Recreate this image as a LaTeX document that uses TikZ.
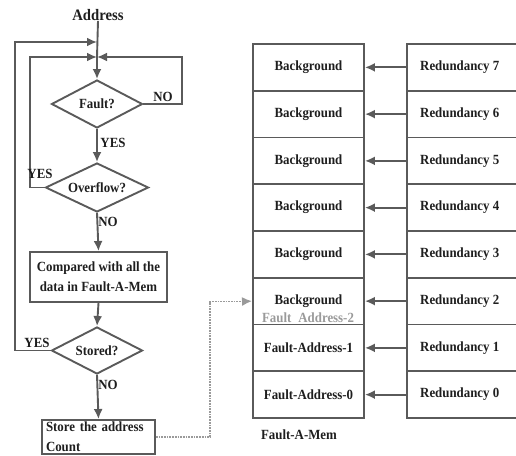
\documentclass[tikz,border=0pt]{standalone}
\usepackage{fontspec}
\setmainfont{Liberation Serif}[FakeStretch=0.92]
\usetikzlibrary{shapes.geometric,arrows.meta}
\definecolor{ln}{HTML}{5A5A5A}
\definecolor{tx}{HTML}{1E1E1E}
\definecolor{dt}{HTML}{9A9A9A}
\tikzset{
  base/.style={font=\fontsize{14}{20}\selectfont\bfseries, text=tx},
  dia/.style={base, diamond, draw=ln, line width=1.9pt, inner sep=0pt, aspect=1.9},
  fbox/.style={base, rectangle, draw=ln, line width=1.9pt, inner sep=2pt},
  cell/.style={base, rectangle, draw=ln, line width=1.9pt, minimum height=46.75pt, inner sep=0pt},
  lbl/.style={base, inner sep=0pt},
  conn/.style={draw=ln, line width=1.9pt},
  arr/.style={conn, -{Latex[length=10pt,width=9pt]}},
}
\begin{document}
\begin{tikzpicture}[x=1pt,y=-1pt]
\useasboundingbox (0,0) rectangle (516,455);
\clip (0,0) rectangle (516,455);
% flowchart
\node[lbl, font=\fontsize{16}{20}\selectfont\bfseries] (addr) at (98,15) {Address};
\coordinate (j1) at (97,42);
\coordinate (j2) at (97,57);
\node[dia, minimum width=91pt, minimum height=48pt] (fault) at (97,104) {Fault?};
\node[dia, minimum width=103pt, minimum height=49pt] (over) at (97,187.5) {Overflow?};
\node[fbox, minimum width=137pt, minimum height=50pt, align=center] (cmp) at (98.5,277) {Compared with all the\\data in Fault-A-Mem};
\node[dia, minimum width=91pt, minimum height=47pt] (stored) at (97,350.5) {Stored?};
\node[fbox, minimum width=113pt, minimum height=34pt, align=left, text width=105pt] (store) at (98.5,437) {Store the address\\Count};
\coordinate (c1) at (15,350.5);
\coordinate (c2) at (15,42);
\coordinate (c3) at (30,187.5);
\coordinate (c4) at (30,57);
\coordinate (c5) at (182,104);
\coordinate (c6) at (182,57);
\coordinate (d1) at (210,437);
\coordinate (d2) at (210,301.5);

\draw[conn] (addr.south) -- (j2);
\draw[arr] (j2) -- (fault.north);
\draw[arr] (stored.west) -- (c1) -- (c2) -- (j1);
\draw[arr] (over.west) -- (c3) -- (c4) -- (j2);
\draw[arr] (fault.east) -- (c5) -- (c6) -- (j2);
\draw[arr] (fault.south) -- (over.north);
\draw[arr] (over.south) -- (cmp.north);
\draw[arr] (cmp.south) -- (stored.north);
\draw[arr] (stored.south) -- (store.north);

\node[lbl] (no1) at (163,97) {NO};
\node[lbl] (yes1) at (113,143) {YES};
\node[lbl] (yes2) at (40,174) {YES};
\node[lbl] (no2) at (108,222) {NO};
\node[lbl] (yes3) at (37,343) {YES};
\node[lbl] (no3) at (108,385) {NO};

% memory
\foreach \i/\bt/\rt in {0/Background/Redundancy 7,1/Background/Redundancy 6,2/Background/Redundancy 5,3/Background/Redundancy 4,4/Background/Redundancy 3,5/Background/Redundancy 2,6/Fault-Address-1/Redundancy 1,7/Fault-Address-0/Redundancy 0}{
  \node[cell, minimum width=111pt] (bg\i) at (308.5,{44+46.75*(\i+0.5)}) {};
  \node[cell, minimum width=113pt] (rd\i) at (463.5,{44+46.75*(\i+0.5)}) {};
  \node[lbl] (bgt\i) at (bg\i) {\bt};
  \node[lbl, anchor=west] (rdt\i) at (420,{44+46.75*(\i+0.5)}) {\rt};
  \draw[arr] (rd\i.west) -- (bg\i.east);
}
\node[lbl, text=dt] (fa2) at (308,318) {Fault\hspace{0.5em}Address-2};
\node[lbl] (famem) at (299,435) {Fault-A-Mem};
\draw[draw=dt, line width=1.7pt, densely dotted] (store.east) -- (d1) -- (d2) -- ++(32,0) coordinate (d3);
\draw[-{Latex[length=10pt,width=9pt]}, draw=dt, fill=dt, line width=1.7pt] (d3) -- (bg5.west);
\end{tikzpicture}
\end{document}
